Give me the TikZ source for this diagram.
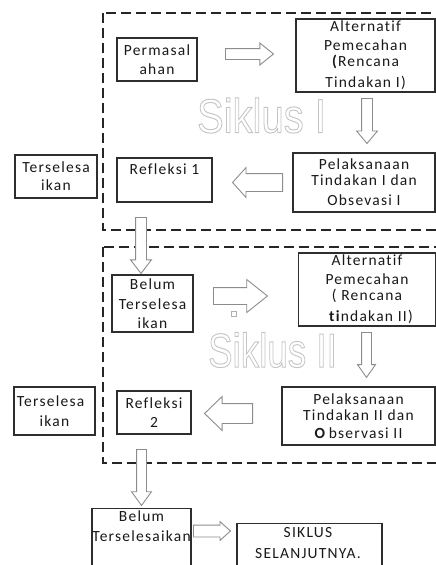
\documentclass[tikz,border=0pt]{standalone}
\usepackage{graphicx}
\usepackage{fontspec}
\setmainfont{Carlito}[LetterSpace=8, Ligatures=NoCommon]
\newfontfamily\markfont{Liberation Sans}
\usepackage{tikz}
\usetikzlibrary{shapes.arrows}

\definecolor{boxline}{HTML}{2E2E2E}
\definecolor{arrline}{HTML}{8C8C8C}
\newcommand{\siklusmark}[1]{{\markfont\fontsize{40}{40}\selectfont
  \special{pdf:literal direct 1 Tr 0.8 w 0.77 0.77 0.77 RG}#1\special{pdf:literal direct 0 Tr}}}

\tikzset{
  box/.style={draw=boxline, line width=1.1pt, fill=white, align=center, inner sep=0pt, font=\fontsize{15.5}{20}\selectfont, text=black!90},
  txt/.style={align=center, inner sep=0pt, font=\fontsize{15.5}{20}\selectfont, text=black!90},
  cycleframe/.style={draw=black!85, line width=2.4pt, dash pattern=on 10pt off 5pt},
  harrow/.style={single arrow, draw=arrline, fill=white, line width=0.9pt, inner xsep=0pt, minimum width=1pt, anchor=tail},
}

\begin{document}
\begin{tikzpicture}[x=1pt,y=-1pt]
    \useasboundingbox (0,0) rectangle (436,565);
    \clip (0,0) rectangle (436,565);
    \draw[cycleframe] (103,13) rectangle (470,230);
    \draw[cycleframe] (103,247) rectangle (470,463);
    \node (mark1) at (261.5,115.5) {\scalebox{1}[1.2]{\siklusmark{Siklus I}}};
    \node (mark2) at (272.5,350) {\scalebox{0.92}[1.2]{\siklusmark{Siklus II}}};
    \node[box, minimum width=80pt, minimum height=43pt] (perm) at (157,59.5) {Permasal\\[-1pt]ahan};
    \node[box, minimum width=139pt, minimum height=73pt] (alt1) at (365.5,55.5) {Alternatif\\[-1pt]Pemecahan\\[-4pt]\textbf{(}Rencana\\[1pt]Tindakan I)};
    \node[box, minimum width=142pt, minimum height=59pt] (pel1) at (364,182.5) {Pelaksanaan\\[-4pt]Tindakan I dan\\Obsevasi I};
    \node[box, minimum width=95pt, minimum height=44pt] (ref1) at (164.5,180) {Refleksi 1\\[-5pt]\strut};
    \node[box, minimum width=82pt, minimum height=43pt] (ter1) at (56,176.5) {Terselesa\\[-2pt]ikan};
    \node[box, minimum width=81pt, minimum height=57pt] (bt2) at (152.5,303.5) {Belum\\Terselesa\\[-1pt]ikan};
    \node[box, minimum width=137pt, minimum height=73pt] (alt2) at (367,289.5) {Alternatif\\[-1pt]Pemecahan\\[-4pt]( Rencana\\[1pt]\hspace*{8pt}\textbf{ti}ndakan II)};
    \node[box, minimum width=153pt, minimum height=58pt] (pel2) at (358.5,416) {Pelaksanaan\\[-4pt]Tindakan II dan\\[-2pt]\textbf{O}\,bservasi II};
    \node[box, minimum width=74pt, minimum height=43pt] (ref2) at (154,412.5) {Refleksi\\[-1pt]2};
    \node[box, minimum width=81pt, minimum height=48pt] (ter2) at (54.5,411) {Terselesa\hspace*{8pt}\\ikan};
    \node[box, minimum width=99pt, minimum height=70pt, anchor=north] (bt3) at (141.5,508) {};
    \node[txt, anchor=north] (bt3txt) at (141.5,511) {Belum\\Terselesaikan};
    \node[box, minimum width=145pt, minimum height=60pt, anchor=north] (next) at (309.5,523) {};
    \node[txt, anchor=north] (nexttxt) at (308,527) {SIKLUS\\[1pt]SELANJUTNYA.};
    \node[draw=arrline!70, line width=0.6pt, minimum size=5pt, inner sep=0pt] (dot) at (234,313.5) {};
    \node[harrow, inner ysep=5pt, single arrow head extend=5.5pt, single arrow tip angle=78, minimum height=48pt] (a1) at (225,54) {};
    \node[harrow, rotate=-90, inner ysep=5pt, single arrow head extend=5pt, single arrow tip angle=80, minimum height=45pt] (a2) at (367,98) {};
    \node[harrow, rotate=180, inner ysep=8.5pt, single arrow head extend=6pt, single arrow tip angle=96, minimum height=50pt] (a3) at (283,182.5) {};
    \node[harrow, rotate=-90, inner ysep=5pt, single arrow head extend=5pt, single arrow tip angle=75, minimum height=56pt] (a4) at (141,217) {};
    \node[harrow, inner ysep=8pt, single arrow head extend=8pt, single arrow tip angle=77, minimum height=54pt] (a5) at (213,296) {};
    \node[harrow, rotate=-90, inner ysep=4.5pt, single arrow head extend=4pt, single arrow tip angle=70, minimum height=45pt] (a6) at (366.5,332) {};
    \node[harrow, rotate=180, inner ysep=9.5pt, single arrow head extend=7pt, single arrow tip angle=88, minimum height=48pt] (a7) at (253,413.5) {};
    \node[harrow, rotate=-90, inner ysep=4.5pt, single arrow head extend=5pt, single arrow tip angle=72, minimum height=56pt] (a8) at (141.5,449) {};
    \node[harrow, inner ysep=5.5pt, single arrow head extend=3.5pt, single arrow tip angle=84, minimum height=37pt] (a9) at (193,531) {};
\end{tikzpicture}
\end{document}
